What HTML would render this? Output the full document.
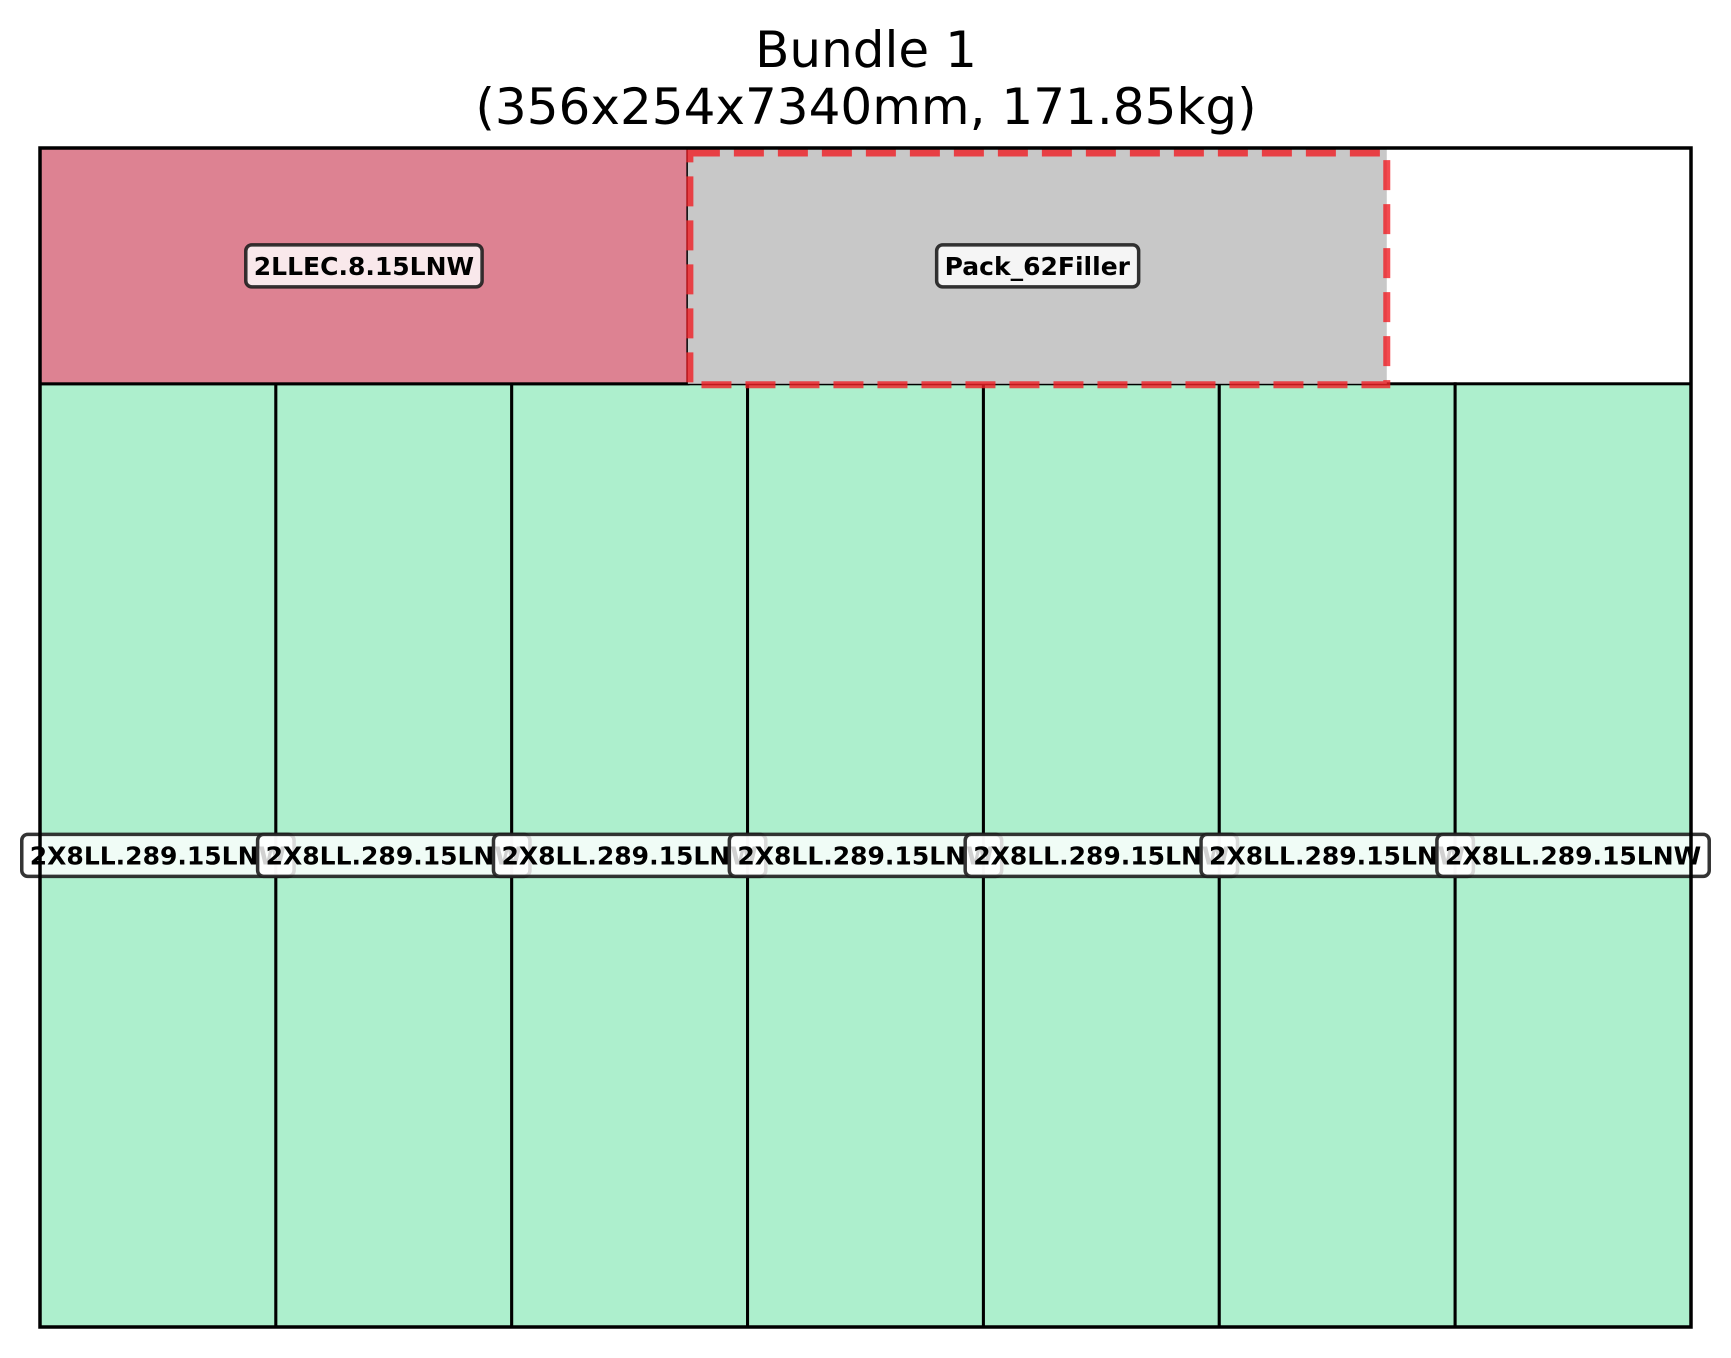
<!DOCTYPE html>
<html><head><meta charset="utf-8"><style>
html,body{margin:0;padding:0;background:#fff;}
svg{display:block;}
text{font-family:"DejaVu Sans","Liberation Sans",sans-serif;}
</style></head><body>
<svg id="chart" width="1731" height="1358" viewBox="0 0 1731 1358" xmlns="http://www.w3.org/2000/svg">
<text x="866" y="67" text-anchor="middle" font-size="50" fill="#000">Bundle 1</text>
<text x="866" y="124" text-anchor="middle" font-size="50" fill="#000">(356x254x7340mm, 171.85kg)</text>
<g id="cells"></g>
<g id="labels"></g>
<rect x="40" y="148" width="1651" height="1179" fill="none" stroke="#000" stroke-width="3.5"/>
</svg>
<script>
// bundle dimensions (mm)
const bundleW = 356;
const bundleH = 254;
// items: name, x, y (from top), w, h
const itemNames = ["2X8LL.289.15LNW","2X8LL.289.15LNW","2X8LL.289.15LNW","2X8LL.289.15LNW","2X8LL.289.15LNW","2X8LL.289.15LNW","2X8LL.289.15LNW","2LLEC.8.15LNW","Pack_62Filler"];
const itemX = [0,50.857,101.714,152.571,203.429,254.286,305.143,0,139.7];
const itemY = [50.8,50.8,50.8,50.8,50.8,50.8,50.8,0,0];
const itemW = [50.857,50.857,50.857,50.857,50.857,50.857,50.857,139.7,150.7];
const itemH = [203.2,203.2,203.2,203.2,203.2,203.2,203.2,50.8,50.8];
const itemKind = ["board","board","board","board","board","board","board","board2","filler"];

const X0 = 40, X1 = 1691, Y0 = 148, Y1 = 1327;
const sx = v => X0 + v / bundleW * (X1 - X0);
const sy = v => Y0 + v / bundleH * (Y1 - Y0);
const NS = "http://www.w3.org/2000/svg";
const cells = document.getElementById("cells");
const labels = document.getElementById("labels");
const fills = {board:"#adefcd", board2:"#dd8292", filler:"#c8c8c8"};

itemNames.forEach((name, i) => {
  const x = sx(itemX[i]), y = sy(itemY[i]);
  const w = sx(itemX[i] + itemW[i]) - x, h = sy(itemY[i] + itemH[i]) - y;
  const r = document.createElementNS(NS, "rect");
  
  
  r.setAttribute("x", x); r.setAttribute("y", y);
  r.setAttribute("width", w); r.setAttribute("height", h);
  r.setAttribute("fill", fills[itemKind[i]]);
  if (itemKind[i] === "filler") {
    r.setAttribute("stroke", "none");
    cells.appendChild(r);
    const d = document.createElementNS(NS, "rect");
    
    
    d.setAttribute("x", x + 2); d.setAttribute("y", y + 5);
    d.setAttribute("width", w - 2); d.setAttribute("height", h - 4);
    d.setAttribute("fill", "none");
    d.setAttribute("stroke", "rgba(240,30,36,0.8)");
    d.setAttribute("stroke-width", "7");
    d.setAttribute("stroke-dasharray", "30 14");
    labels.parentNode.insertBefore(d, labels);
  } else {
    r.setAttribute("stroke", "#000");
    r.setAttribute("stroke-width", "3");
    cells.appendChild(r);
  }
  const cx = x + w / 2, cy = y + h / 2;
  const g = document.createElementNS(NS, "g");
  
  
  const t = document.createElementNS(NS, "text");
  t.setAttribute("x", cx); t.setAttribute("y", cy + 9);
  t.setAttribute("text-anchor", "middle");
  t.setAttribute("font-size", "25");
  t.setAttribute("font-weight", "bold");
  t.setAttribute("fill", "#000");
  t.textContent = name;
  g.appendChild(t);
  labels.appendChild(g);
  const bb = t.getBBox();
  const b = document.createElementNS(NS, "rect");
  b.setAttribute("x", bb.x - 8); b.setAttribute("y", cy - 21);
  b.setAttribute("width", bb.width + 16); b.setAttribute("height", 42);
  b.setAttribute("rx", 6);
  b.setAttribute("fill", "rgba(255,255,255,0.82)");
  b.setAttribute("stroke", "rgba(30,30,30,0.9)");
  b.setAttribute("stroke-width", "3.5");
  g.insertBefore(b, t);
});
</script>
</body></html>
